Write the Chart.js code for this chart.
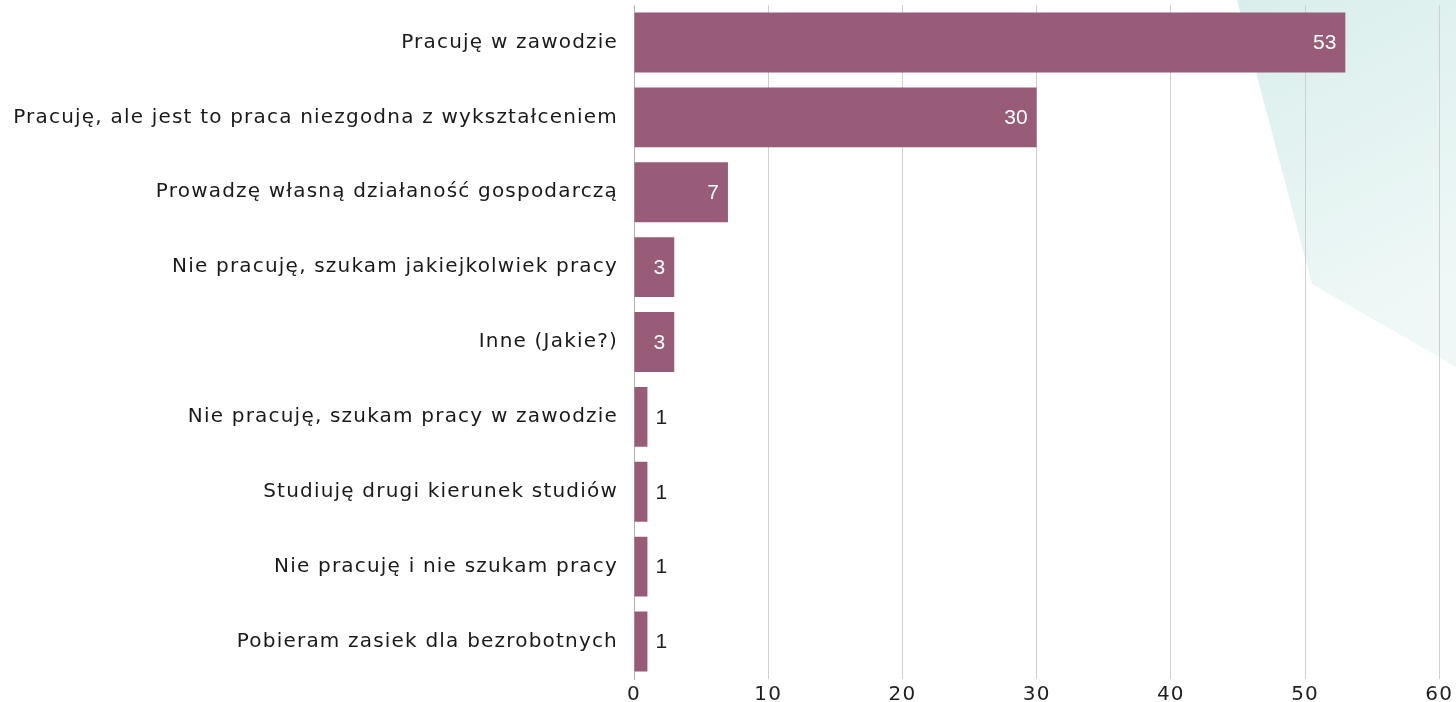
<!DOCTYPE html>
<html>
<head>
<meta charset="utf-8">
<script src="https://cdn.jsdelivr.net/npm/chart.js@4.4.1/dist/chart.umd.min.js"></script>
<style>
  html, body { margin: 0; padding: 0; background: #fff; }
  #wrap { position: relative; width: 1456px; height: 702px; overflow: hidden; }
  #bg { position: absolute; left: 0; top: 0; width: 1456px; height: 702px; }
  #chart { position: absolute; left: 0; top: 0; }
</style>
</head>
<body>
<div id="wrap">
  <svg id="bg" width="1456" height="702">
    <defs>
      <linearGradient id="tg" x1="0" y1="0" x2="0.3" y2="1">
        <stop offset="0" stop-color="#d9eeec"/>
        <stop offset="1" stop-color="#eff8f7"/>
      </linearGradient>
    </defs>
    <polygon points="1237,0 1456,0 1456,367 1312,284" fill="url(#tg)"/>
  </svg>
  <canvas id="chart" width="1456" height="702"></canvas>
</div>
<script>
// Dane wykresu
const categories = [
    'Pracuję w zawodzie',
    'Pracuję, ale jest to praca niezgodna z wykształceniem',
    'Prowadzę własną działaność gospodarczą',
    'Nie pracuję, szukam jakiejkolwiek pracy',
    'Inne (Jakie?)',
    'Nie pracuję, szukam pracy w zawodzie',
    'Studiuję drugi kierunek studiów',
    'Nie pracuję i nie szukam pracy',
    'Pobieram zasiek dla bezrobotnych'
];
const counts = [53, 30, 7, 3, 3, 1, 1, 1, 1];
const xTicks = [0, 10, 20, 30, 40, 50, 60];

const barColor = '#985b78';
const labelFont = '"DejaVu Sans", sans-serif';

// Rozstrzelenie liter etykiet osi (bliżej szerokiego kroju z oryginału)
const letterSpacing = {
    id: 'letterSpacing',
    beforeDraw(chart) { chart.ctx.letterSpacing = '1.2px'; },
    afterDraw(chart) { chart.ctx.letterSpacing = '0px'; }
};

// Etykiety wartości na słupkach
const valueLabels = {
    id: 'valueLabels',
    afterDatasetsDraw(chart) {
        const ctx = chart.ctx;
        const meta = chart.getDatasetMeta(0);
        ctx.save();
        ctx.letterSpacing = '0px';
        ctx.font = '21px "Liberation Sans", Arial, sans-serif';
        ctx.textBaseline = 'middle';
        meta.data.forEach((bar, i) => {
            const v = counts[i];
            if (v >= 3) {
                ctx.fillStyle = '#ffffff';
                ctx.textAlign = 'right';
                ctx.fillText(String(v), bar.x - 9, bar.y + 1);
            } else {
                ctx.fillStyle = '#222222';
                ctx.textAlign = 'left';
                ctx.fillText(String(v), bar.x + 8, bar.y + 1);
            }
        });
        ctx.restore();
    }
};

const ctx = document.getElementById('chart').getContext('2d');
new Chart(ctx, {
    type: 'bar',
    data: {
        labels: categories,
        datasets: [{
            data: counts,
            backgroundColor: barColor,
            borderWidth: 0,
            barPercentage: 0.8,
            categoryPercentage: 1
        }]
    },
    options: {
        indexAxis: 'y',
        responsive: false,
        animation: false,
        layout: { padding: { top: 5, right: 16, bottom: 0, left: 0 } },
        plugins: {
            legend: { display: false },
            tooltip: { enabled: false }
        },
        scales: {
            x: {
                min: 0,
                max: 60,
                afterBuildTicks: scale => {
                    scale.ticks = xTicks.map(v => ({ value: v }));
                },
                afterFit: scale => { scale.height = 23; },
                grid: { color: '#cfcfcf', drawTicks: false },
                border: { display: false },
                ticks: {
                    padding: 4,
                    color: '#1f1f1f',
                    font: { family: labelFont, size: 20 }
                }
            },
            y: {
                afterFit: scale => {
                    scale.width = 634;
                    scale.paddingTop = 0;
                    scale.paddingBottom = 0;
                },
                grid: { display: false, drawTicks: false },
                border: { display: true, color: '#b0b0b0', width: 1 },
                ticks: {
                    padding: 16,
                    color: '#1a1a1a',
                    font: { family: labelFont, size: 20 }
                }
            }
        }
    },
    plugins: [letterSpacing, valueLabels]
});
</script>
</body>
</html>
